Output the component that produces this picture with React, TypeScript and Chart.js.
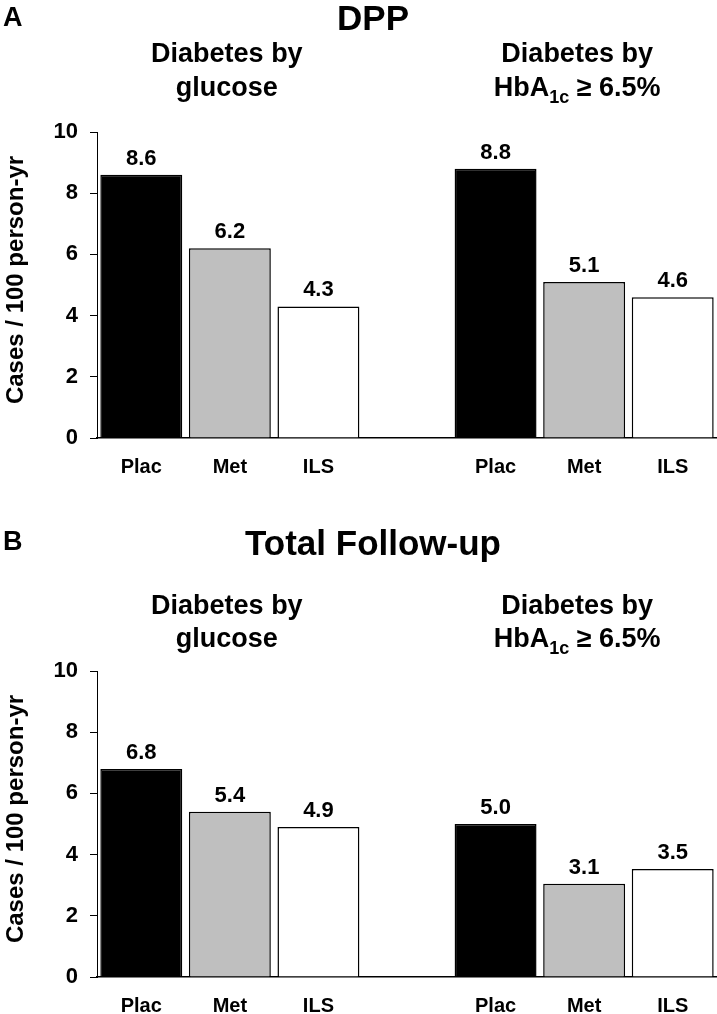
import React, { useEffect, useRef } from "react";
import { Chart, registerables } from "chart.js";

Chart.register(...registerables);

const categories = ["Plac", "Met", "ILS", "", "Plac", "Met", "ILS"];
const dppValues = [8.6, 6.2, 4.3, null, 8.8, 5.1, 4.6];
const dppLabels = ["8.6", "6.2", "4.3", "", "8.8", "5.1", "4.6"];
const totalValues = [6.8, 5.4, 4.9, null, 5.0, 3.05, 3.53];
const totalLabels = ["6.8", "5.4", "4.9", "", "5.0", "3.1", "3.5"];
const yTickValues = [0, 2, 4, 6, 8, 10];
const barFills = ["#000000", "#bfbfbf", "#ffffff", "#ffffff", "#000000", "#bfbfbf", "#ffffff"];
const yTitle = "Cases / 100 person-yr";
const groupTitleLine1 = "Diabetes by";
const groupTitleLeft2 = "glucose";

const FONT = "'Liberation Sans', Arial, Helvetica, sans-serif";

type PanelProps = {
  letter: string;
  title: string;
  values: (number | null)[];
  labels: string[];
  top: number;
  height: number;
  areaTop: number;
  xAxisHeight: number;
  letterBase: number;
  titleBase: number;
  sub1Base: number;
  sub2Base: number;
  yTitleY: number;
};

function Panel(p: PanelProps) {
  const ref = useRef<HTMLCanvasElement | null>(null);
  useEffect(() => {
    if (!ref.current) return;
    const textPlugin = {
      id: "texts",
      afterDraw(chart: any) {
        const ctx = chart.ctx;
        const xs = chart.scales.x;
        ctx.save();
        ctx.fillStyle = "#000";
        // value labels
        const meta = chart.getDatasetMeta(0);
        ctx.font = `bold 22px ${FONT}`;
        ctx.textAlign = "center";
        ctx.textBaseline = "alphabetic";
        meta.data.forEach((el: any, i: number) => {
          const lbl = p.labels[i];
          if (!lbl || p.values[i] == null) return;
          ctx.fillText(lbl, el.x, el.y - 10);
        });
        // panel letter
        ctx.textAlign = "left";
        ctx.font = `bold 27px ${FONT}`;
        ctx.fillText(p.letter, 3, p.letterBase);
        // main title
        ctx.textAlign = "center";
        ctx.font = `bold 35px ${FONT}`;
        ctx.fillText(p.title, 373, p.titleBase);
        // group subtitles
        const g1 = xs.getPixelForValue(1) - 3;
        const g2 = xs.getPixelForValue(5) - 7;
        ctx.font = `bold 27px ${FONT}`;
        ctx.fillText(groupTitleLine1, g1, p.sub1Base);
        ctx.fillText(groupTitleLeft2, g1, p.sub2Base);
        ctx.fillText(groupTitleLine1, g2, p.sub1Base);
        // HbA1c ≥ 6.5% with subscript
        const partA = "HbA";
        const partSub = "1c";
        const partB = " \u2265 6.5%";
        ctx.font = `bold 27px ${FONT}`;
        const wA = ctx.measureText(partA).width;
        const wB = ctx.measureText(partB).width;
        ctx.font = `bold 18px ${FONT}`;
        const wS = ctx.measureText(partSub).width;
        const total = wA + wS + wB;
        let x = g2 - total / 2;
        ctx.textAlign = "left";
        ctx.font = `bold 27px ${FONT}`;
        ctx.fillText(partA, x, p.sub2Base);
        x += wA;
        ctx.font = `bold 18px ${FONT}`;
        ctx.fillText(partSub, x, p.sub2Base + 7);
        x += wS;
        ctx.font = `bold 27px ${FONT}`;
        ctx.fillText(partB, x, p.sub2Base);
        // y axis title
        ctx.save();
        ctx.translate(23, p.yTitleY);
        ctx.rotate(-Math.PI / 2);
        ctx.textAlign = "center";
        ctx.font = `bold 24px ${FONT}`;
        ctx.fillText(yTitle, 0, 0);
        ctx.restore();
        ctx.restore();
      },
    };
    const chart = new Chart(ref.current, {
      type: "bar",
      data: {
        labels: categories,
        datasets: [
          {
            data: p.values as any,
            backgroundColor: barFills,
            borderColor: "#000",
            borderWidth: 1.5,
            borderSkipped: "bottom",
            categoryPercentage: 1,
            barPercentage: 0.925,
          },
        ],
      },
      options: {
        animation: false,
        responsive: false,
        layout: { padding: { top: p.areaTop, left: 0, right: 0, bottom: 0 } },
        plugins: { legend: { display: false }, tooltip: { enabled: false }, title: { display: false } },
        scales: {
          x: {
            grid: { drawOnChartArea: false, drawTicks: false },
            border: { display: true, color: "#000", width: 1.5 },
            ticks: { color: "#000", font: { family: FONT, weight: "bold", size: 20 }, padding: 17, maxRotation: 0, autoSkip: false },
            afterFit: (s: any) => { s.height = p.xAxisHeight; },
          },
          y: {
            min: 0,
            max: 10,
            afterBuildTicks: (s: any) => { s.ticks = yTickValues.map((v) => ({ value: v })); },
            ticks: { color: "#000", font: { family: FONT, weight: "bold", size: 22 }, padding: 12 },
            grid: { drawOnChartArea: false, drawTicks: true, tickLength: 7, color: "#000", lineWidth: 1 },
            border: { display: true, color: "#000", width: 1 },
            afterFit: (s: any) => { s.width = 97; },
          },
        },
      },
      plugins: [textPlugin],
    });
    return () => chart.destroy();
  }, []);
  return (
    <canvas
      ref={ref}
      width={717}
      height={p.height}
      style={{ position: "absolute", left: 0, top: p.top, width: 717, height: p.height, display: "block" }}
    />
  );
}

export default function App() {
  return (
    <div style={{ position: "absolute", left: 0, top: 0, width: 717, height: 1014, background: "#fff", overflow: "hidden" }}>
      <Panel
        letter="A"
        title="DPP"
        values={dppValues}
        labels={dppLabels}
        top={0}
        height={507}
        areaTop={132}
        xAxisHeight={69}
        letterBase={26}
        titleBase={30}
        sub1Base={62}
        sub2Base={96}
        yTitleY={280}
      />
      <Panel
        letter="B"
        title="Total Follow-up"
        values={totalValues}
        labels={totalLabels}
        top={507}
        height={507}
        areaTop={164}
        xAxisHeight={37}
        letterBase={43}
        titleBase={48}
        sub1Base={107}
        sub2Base={140}
        yTitleY={312}
      />
    </div>
  );
}
